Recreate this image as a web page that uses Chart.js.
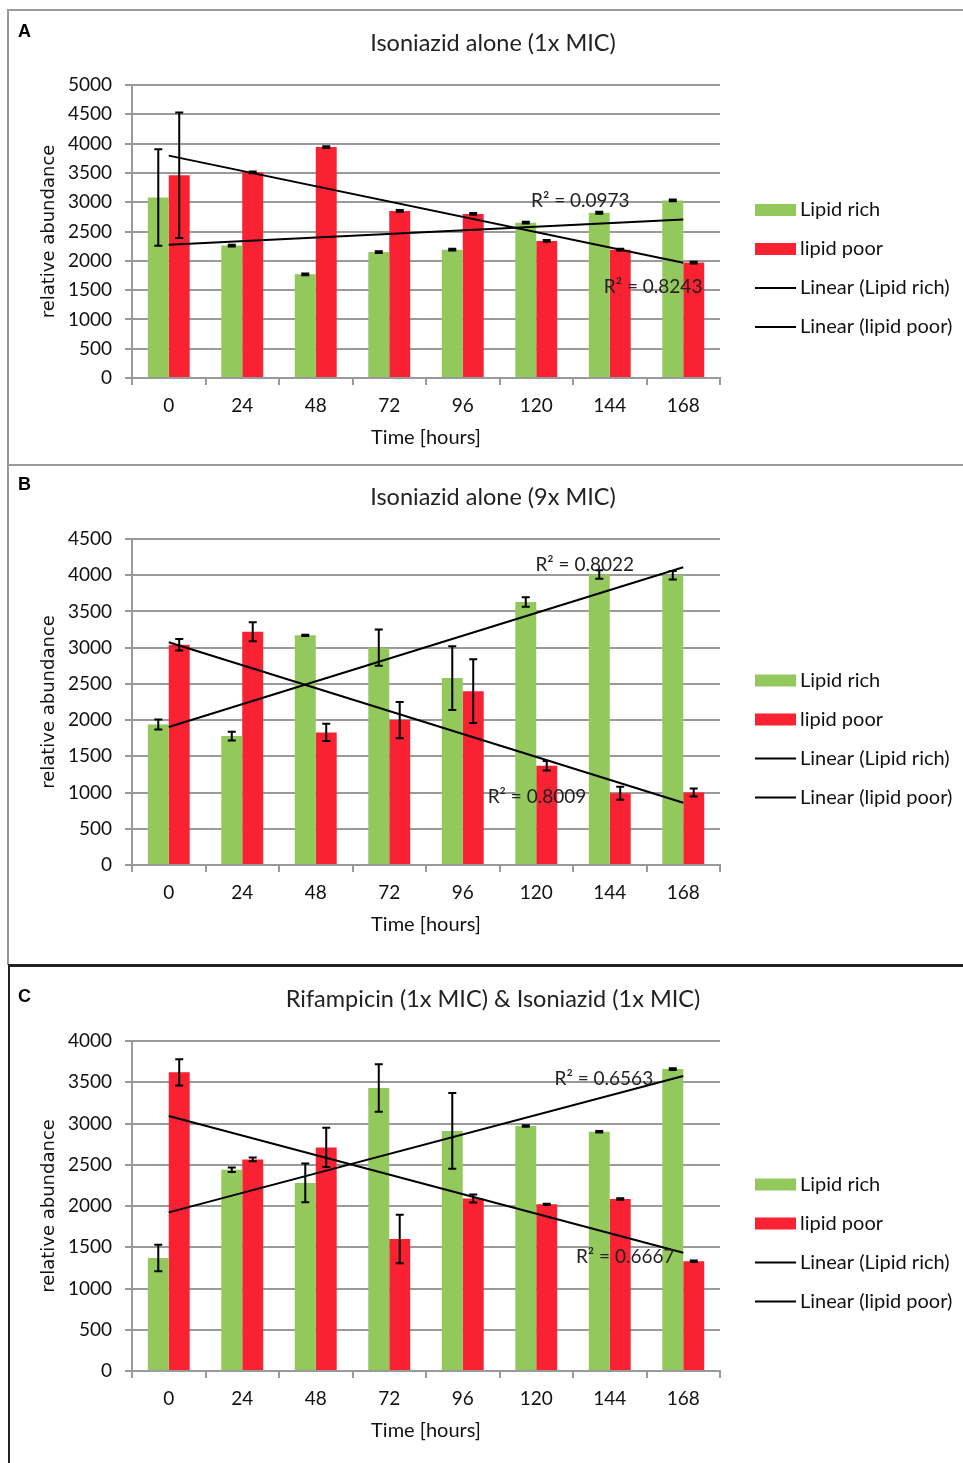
<!DOCTYPE html>
<html>
<head>
<meta charset="utf-8">
<script src="https://cdn.jsdelivr.net/npm/chart.js@4.4.1/dist/chart.umd.min.js"></script>
<style>
  body { margin: 0; background: #fff; }
  #page { position: relative; width: 963px; height: 1463px; overflow: hidden; }
  canvas { position: absolute; left: 0; }
  .rule { position: absolute; }
</style>
</head>
<body>
<div id="page">
  <canvas id="chartA" width="963" height="465" style="top:0"></canvas>
  <canvas id="chartB" width="963" height="500" style="top:465px"></canvas>
  <canvas id="chartC" width="963" height="498" style="top:965px"></canvas>
  <div class="rule" style="left:7px;top:9px;width:960px;height:2px;background:#9a9a9a"></div>
  <div class="rule" style="left:7px;top:9px;width:2px;height:956px;background:#9a9a9a"></div>
  <div class="rule" style="left:7px;top:464px;width:960px;height:2px;background:#9a9a9a"></div>
  <div class="rule" style="left:8px;top:964px;width:960px;height:3px;background:#222"></div>
  <div class="rule" style="left:8px;top:964px;width:2px;height:500px;background:#222"></div>
</div>
<script>
// time points (hours)
const hours = ["0", "24", "48", "72", "96", "120", "144", "168"];
const yTicksStep = 500;

// A: Isoniazid alone (1x MIC)
const richA = [3080, 2260, 1770, 2150, 2190, 2650, 2820, 3030];
const poorA = [3460, 3510, 3940, 2850, 2800, 2340, 2190, 1970];
const richErrA = [825, 15, 15, 15, 15, 15, 15, 15];
const poorErrA = [1070, 15, 15, 15, 15, 15, 15, 15];
const trendRichA = [2275, 2705]; // at 0 h and 168 h
const trendPoorA = [3795, 1965];

// B: Isoniazid alone (9x MIC)
const richB = [1940, 1780, 3170, 3000, 2580, 3630, 4010, 4000];
const poorB = [3040, 3220, 1830, 2000, 2400, 1370, 990, 1000];
const richErrB = [70, 60, 10, 250, 440, 65, 60, 60];
const poorErrB = [80, 130, 120, 250, 440, 65, 90, 55];
const trendRichB = [1905, 4110];
const trendPoorB = [3075, 860];

// C: Rifampicin (1x MIC) & Isoniazid (1x MIC)
const richC = [1370, 2440, 2280, 3430, 2910, 2970, 2900, 3660];
const poorC = [3620, 2565, 2710, 1600, 2090, 2020, 2085, 1330];
const richErrC = [160, 28, 234, 289, 459, 10, 10, 10];
const poorErrC = [160, 22, 238, 295, 48, 8, 8, 8];
const trendRichC = [1923, 3576];
const trendPoorC = [3091, 1434];

const GREEN = "#92C85C";
const RED = "#F92233";
const GRID = "#9a9a9a";
const FONT = "Lato, 'Noto Sans', sans-serif";

Chart.defaults.font.family = FONT;
Chart.defaults.color = "#111";

const decorPlugin = {
  id: "decor",
  afterDatasetsDraw(chart, args, opts) {
    const { ctx, scales: { x, y } } = chart;
    ctx.save();
    // error bars
    ctx.strokeStyle = "#000";
    ctx.lineWidth = 2;
    opts.errors.forEach((errs, di) => {
      const meta = chart.getDatasetMeta(di);
      meta.data.forEach((bar, i) => {
        const v = chart.data.datasets[di].data[i];
        const top = y.getPixelForValue(v + errs[i]);
        const bot = y.getPixelForValue(v - errs[i]);
        ctx.beginPath();
        ctx.moveTo(bar.x, top);
        ctx.lineTo(bar.x, bot);
        ctx.moveTo(bar.x - 4, top);
        ctx.lineTo(bar.x + 4, top);
        ctx.moveTo(bar.x - 4, bot);
        ctx.lineTo(bar.x + 4, bot);
        ctx.stroke();
      });
    });
    // R² labels
    ctx.fillStyle = "#222";
    ctx.font = "19px " + FONT;
    ctx.textAlign = "center";
    ctx.textBaseline = "middle";
    opts.r2.forEach((r) => {
      ctx.fillText(r.text, x.getPixelForValue(r.at), y.getPixelForValue(r.value));
    });
    ctx.restore();
  },
  afterDraw(chart, args, opts) {
    const { ctx, chartArea } = chart;
    ctx.save();
    // panel letter
    ctx.fillStyle = "#000";
    ctx.font = "bold 18px 'Liberation Sans', Arial, sans-serif";
    ctx.textAlign = "left";
    ctx.textBaseline = "middle";
    ctx.fillText(opts.letter, 18, opts.letterY);
    // title
    ctx.fillStyle = "#222";
    ctx.font = "23.5px " + FONT;
    ctx.textAlign = "center";
    ctx.fillText(opts.title, 493, opts.titleY);
    // legend
    const x0 = chartArea.right + 35;
    const cy = (chartArea.top + chartArea.bottom) / 2 + 37;
    ctx.font = "20px " + FONT;
    ctx.textAlign = "left";
    chart.data.datasets.forEach((ds, k) => {
      const yy = cy + (k - 1.5) * 39;
      if (ds.type === "line") {
        ctx.strokeStyle = "#000";
        ctx.lineWidth = 2;
        ctx.beginPath();
        ctx.moveTo(x0, yy);
        ctx.lineTo(x0 + 41, yy);
        ctx.stroke();
      } else {
        ctx.fillStyle = ds.backgroundColor;
        ctx.fillRect(x0, yy - 6, 41, 12);
      }
      ctx.fillStyle = "#111";
      ctx.fillText(ds.label, x0 + 45, yy);
    });
    ctx.restore();
  },
};

function makeChart(id, cfg) {
  return new Chart(document.getElementById(id), {
    type: "bar",
    data: {
      labels: hours,
      datasets: [
        { label: "Lipid rich", data: cfg.rich, backgroundColor: GREEN, order: 1,
          categoryPercentage: 0.57, barPercentage: 1.0 },
        { label: "lipid poor", data: cfg.poor, backgroundColor: RED, order: 1,
          categoryPercentage: 0.57, barPercentage: 1.0 },
        { type: "line", label: "Linear (Lipid rich)", order: 0,
          data: [{ x: hours[0], y: cfg.trendRich[0] }, { x: hours[7], y: cfg.trendRich[1] }],
          borderColor: "#000", borderWidth: 2, pointRadius: 0, fill: false },
        { type: "line", label: "Linear (lipid poor)", order: 0,
          data: [{ x: hours[0], y: cfg.trendPoor[0] }, { x: hours[7], y: cfg.trendPoor[1] }],
          borderColor: "#000", borderWidth: 2, pointRadius: 0, fill: false },
      ],
    },
    options: {
      responsive: false,
      animation: false,
      layout: { padding: { left: 0, right: 243, top: cfg.top, bottom: 0 } },
      plugins: {
        legend: { display: false },
        tooltip: { enabled: false },
        decor: {
          letter: cfg.letter, letterY: cfg.letterY,
          title: cfg.title, titleY: cfg.titleY,
          errors: [cfg.richErr, cfg.poorErr],
          r2: cfg.r2,
        },
      },
      scales: {
        x: {
          offset: true,
          grid: { offset: true, drawOnChartArea: false, drawTicks: true, tickLength: 7, color: GRID, lineWidth: 2 },
          border: { color: GRID, width: 2 },
          ticks: { font: { size: 19 }, padding: 9 },
          title: { display: true, text: "Time [hours]", font: { size: 20 },
            padding: { top: 0, bottom: cfg.xTitlePad } },
          afterFit: (s) => { s.height = cfg.xAxisH; },
        },
        y: {
          min: 0,
          max: cfg.yMax,
          ticks: { stepSize: yTicksStep, font: { size: 19 }, padding: 13, callback: (v) => String(v) },
          grid: { color: GRID, lineWidth: 2, tickLength: 7 },
          border: { color: GRID, width: 2 },
          title: { display: true, text: "relative abundance",
            font: { family: "'DejaVu Sans', sans-serif", size: 18 }, padding: { top: 39, bottom: 0 } },
          afterFit: (s) => { s.width = 132; },
        },
      },
    },
    plugins: [decorPlugin],
  });
}

makeChart("chartA", {
  letter: "A", letterY: 32, title: "Isoniazid alone (1x MIC)", titleY: 43,
  top: 85, xAxisH: 87, xTitlePad: 15, yMax: 5000,
  rich: richA, poor: poorA, richErr: richErrA, poorErr: poorErrA,
  trendRich: trendRichA, trendPoor: trendPoorA,
  r2: [{ text: "R² = 0.0973", at: 5.6, value: 3020 }, { text: "R² = 0.8243", at: 6.59, value: 1553 }],
});

makeChart("chartB", {
  letter: "B", letterY: 20, title: "Isoniazid alone (9x MIC)", titleY: 32,
  top: 74, xAxisH: 100, xTitlePad: 28, yMax: 4500,
  rich: richB, poor: poorB, richErr: richErrB, poorErr: poorErrB,
  trendRich: trendRichB, trendPoor: trendPoorB,
  r2: [{ text: "R² = 0.8022", at: 5.66, value: 4141 }, { text: "R² = 0.8009", at: 5.01, value: 939 }],
});

makeChart("chartC", {
  letter: "C", letterY: 32, title: "Rifampicin (1x MIC) & Isoniazid (1x MIC)", titleY: 34,
  top: 76, xAxisH: 92, xTitlePad: 20, yMax: 4000,
  rich: richC, poor: poorC, richErr: richErrC, poorErr: poorErrC,
  trendRich: trendRichC, trendPoor: trendPoorC,
  r2: [{ text: "R² = 0.6563", at: 5.92, value: 3539 }, { text: "R² = 0.6667", at: 6.21, value: 1382 }],
});
</script>
</body>
</html>
